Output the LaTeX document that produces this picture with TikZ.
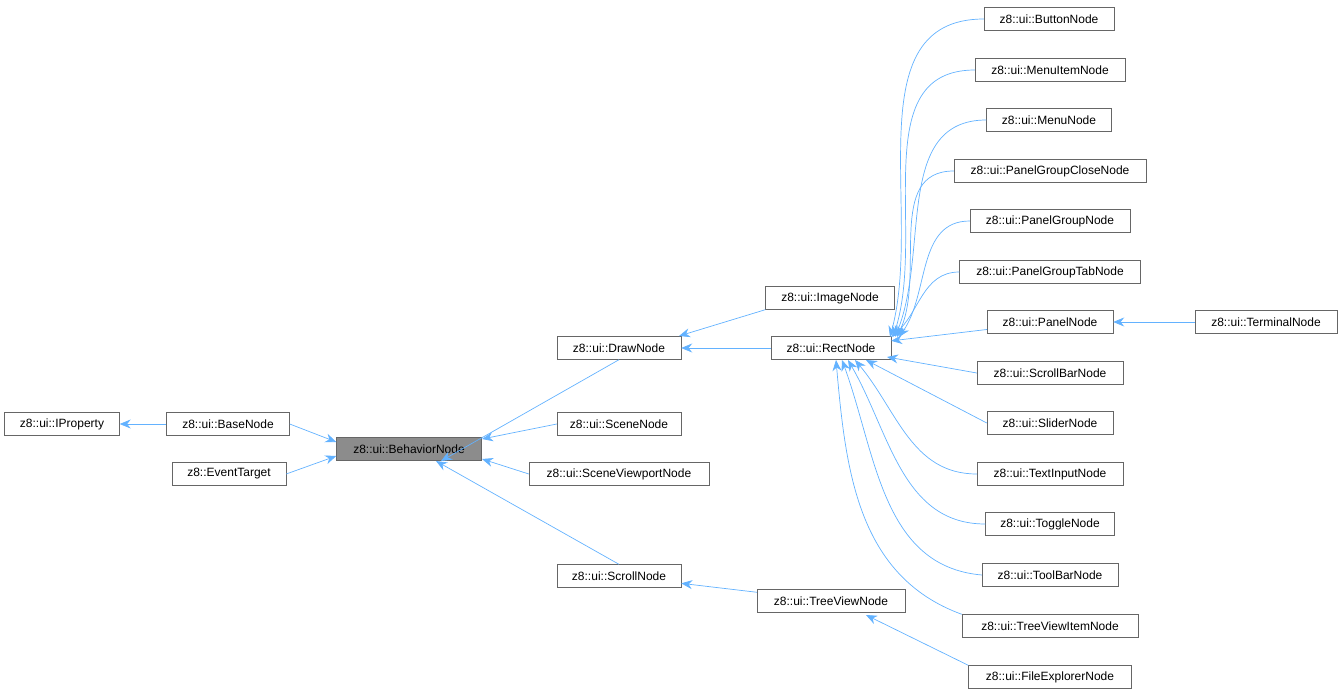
\documentclass[tikz,border=0pt]{standalone}
\usepackage{fontspec}
\setmainfont{Liberation Sans}
\usetikzlibrary{arrows.meta}
\definecolor{edgec}{RGB}{99,178,255}
\begin{document}
\begin{tikzpicture}[x=1pt,y=-1pt,
 box/.style={draw=black!60,fill=white,minimum height=23pt,inner sep=0pt,font=\fontsize{12}{14}\selectfont},
 e/.style={draw=edgec,line width=0.7pt,-{Stealth[length=11pt,width=9pt]}}]
\useasboundingbox (0,0) rectangle (1342,696);
\node[box,minimum width=115pt] (ip) at (62,424) {z8::ui::IProperty};
\node[box,minimum width=123pt] (base) at (228,424) {z8::ui::BaseNode};
\node[box,minimum width=114pt] (ev) at (229,474) {z8::EventTarget};
\node[box,minimum width=145pt,fill=black!45] (beh) at (409,449) {z8::ui::BehaviorNode};
\node[box,minimum width=124pt] (draw) at (619,348) {z8::ui::DrawNode};
\node[box,minimum width=124pt] (scene) at (619,424) {z8::ui::SceneNode};
\node[box,minimum width=180pt] (sv) at (619,474) {z8::ui::SceneViewportNode};
\node[box,minimum width=124pt] (scroll) at (619,576) {z8::ui::ScrollNode};
\node[box,minimum width=129pt] (img) at (830,298) {z8::ui::ImageNode};
\node[box,minimum width=120pt] (rect) at (831,348) {z8::ui::RectNode};
\node[box,minimum width=148pt] (tv) at (831,601) {z8::ui::TreeViewNode};
\node[box,minimum width=130pt] (btn) at (1049,19) {z8::ui::ButtonNode};
\node[box,minimum width=150pt] (mi) at (1050,70) {z8::ui::MenuItemNode};
\node[box,minimum width=125pt] (menu) at (1049,120) {z8::ui::MenuNode};
\node[box,minimum width=192pt] (pgc) at (1050,171) {z8::ui::PanelGroupCloseNode};
\node[box,minimum width=160pt] (pg) at (1050,221) {z8::ui::PanelGroupNode};
\node[box,minimum width=181pt] (pgt) at (1050,272) {z8::ui::PanelGroupTabNode};
\node[box,minimum width=126pt] (panel) at (1050,322) {z8::ui::PanelNode};
\node[box,minimum width=146pt] (sb) at (1050,373) {z8::ui::ScrollBarNode};
\node[box,minimum width=126pt] (sl) at (1050,423) {z8::ui::SliderNode};
\node[box,minimum width=146pt] (ti) at (1050,474) {z8::ui::TextInputNode};
\node[box,minimum width=129pt] (tg) at (1050,524) {z8::ui::ToggleNode};
\node[box,minimum width=136pt] (tb) at (1050,575) {z8::ui::ToolBarNode};
\node[box,minimum width=176pt] (tvi) at (1050,626) {z8::ui::TreeViewItemNode};
\node[box,minimum width=163pt] (fe) at (1050,677) {z8::ui::FileExplorerNode};
\node[box,minimum width=142pt] (term) at (1266,322) {z8::ui::TerminalNode};
\draw[e] (base) -- (ip);
\draw[e] (base.east) -- (beh.west |- 0,442);
\draw[e] (ev.east) -- (beh.west |- 0,456);
\draw[e] (draw.south) -- (441,461);
\draw[e] (scene.west) -- (482,439);
\draw[e] (sv.west) -- (482,459);
\draw[e] (scroll.north) -- (436,461);
\draw[e] (img.south west) -- (679,336);
\draw[e] (rect) -- (draw);
\draw[e] (tv) -- (scroll);
\draw[e] (fe.north west) -- (866,615);
\draw[e] (panel) -- (rect);
\draw[e] (term) -- (panel);
\draw[e] (btn.west) to[out=180,in=75] (890,337);
\draw[e] (mi.west) to[out=180,in=72] (893,337);
\draw[e] (menu.west) to[out=180,in=68] (895,337);
\draw[e] (pgc.west) to[out=180,in=65] (897,337);
\draw[e] (pg.west) to[out=180,in=55] (899,337);
\draw[e] (pgt.west) to[out=180,in=40] (891,337);
\draw[e] (sb.west) -- (887,357);
\draw[e] (sl.west) -- (866,360);
\draw[e] (ti.west) to[out=180,in=-50] (855,360);
\draw[e] (tg.west) to[out=180,in=-60] (848,360);
\draw[e] (tb.west) to[out=175,in=-70] (842,360);
\draw[e] (tvi.north west) to[out=160,in=-85] (836,360);
\end{tikzpicture}
\end{document}
